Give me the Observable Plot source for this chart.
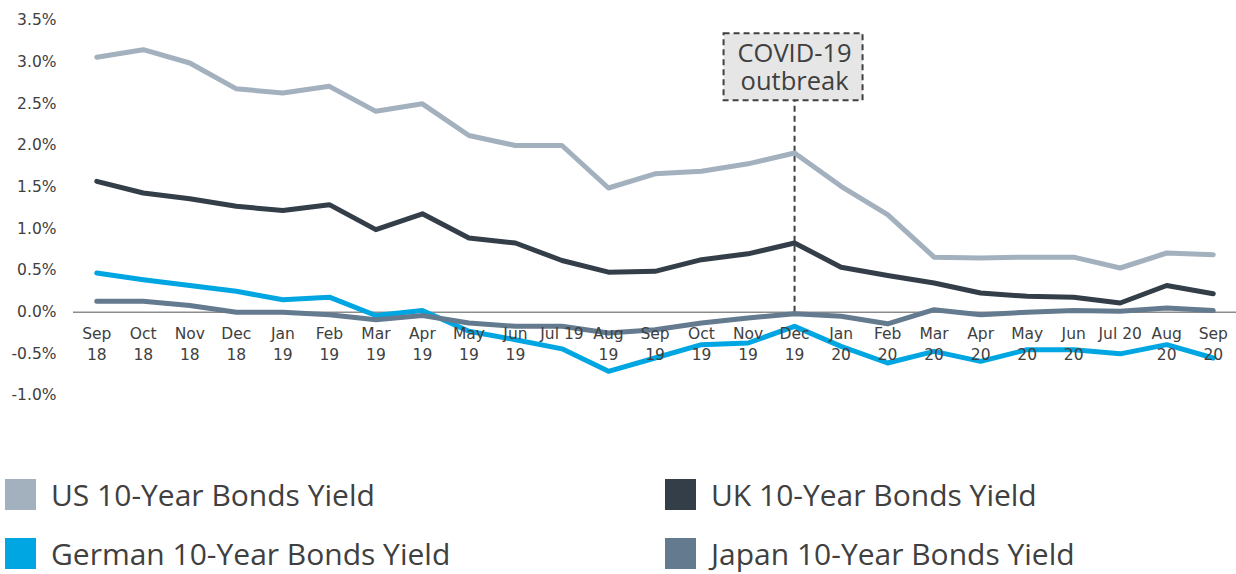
<!DOCTYPE html>
<html><head><meta charset="utf-8">
<script src="https://cdn.jsdelivr.net/npm/d3@7"></script>
<script src="https://cdn.jsdelivr.net/npm/@observablehq/plot@0.6"></script>
<style>
body{margin:0;background:#fff;}
#wrap{position:relative;width:1236px;height:574px;overflow:hidden;}
#legend{position:absolute;left:0;top:420px;width:1236px;}
.item{position:absolute;display:flex;align-items:center;font-family:"Open Sans",sans-serif;font-size:30px;color:#404040;white-space:nowrap;height:31px;}
.sw{width:31px;height:31px;margin-right:15px;flex:none;}
</style></head><body><div id="wrap"><div id="chart"></div><div id="legend"></div></div>
<script>
const months = ["Sep 18","Oct 18","Nov 18","Dec 18","Jan 19","Feb 19","Mar 19","Apr 19","May 19","Jun 19","Jul 19","Aug 19","Sep 19","Oct 19","Nov 19","Dec 19","Jan 20","Feb 20","Mar 20","Apr 20","May 20","Jun 20","Jul 20","Aug 20","Sep 20"];
const tickLabels = ["Sep\n18","Oct\n18","Nov\n18","Dec\n18","Jan\n19","Feb\n19","Mar\n19","Apr\n19","May\n19","Jun\n19","Jul 19","Aug\n19","Sep\n19","Oct\n19","Nov\n19","Dec\n19","Jan\n20","Feb\n20","Mar\n20","Apr\n20","May\n20","Jun\n20","Jul 20","Aug\n20","Sep\n20"];
const usYield = [3.06,3.15,2.99,2.68,2.63,2.71,2.41,2.50,2.12,2.00,2.00,1.49,1.66,1.69,1.78,1.91,1.51,1.17,0.66,0.65,0.66,0.66,0.53,0.71,0.69];
const ukYield = [1.57,1.43,1.36,1.27,1.22,1.29,0.99,1.18,0.89,0.83,0.62,0.48,0.49,0.63,0.70,0.83,0.54,0.44,0.35,0.23,0.19,0.18,0.11,0.32,0.22];
const germanYield = [0.47,0.39,0.32,0.25,0.15,0.18,-0.04,0.02,-0.23,-0.33,-0.44,-0.71,-0.55,-0.39,-0.37,-0.17,-0.41,-0.61,-0.47,-0.59,-0.45,-0.45,-0.50,-0.39,-0.55];
const japanYield = [0.13,0.13,0.08,0.00,0.00,-0.03,-0.09,-0.04,-0.13,-0.17,-0.17,-0.25,-0.21,-0.13,-0.07,-0.02,-0.05,-0.14,0.03,-0.03,0.00,0.02,0.01,0.05,0.02];
const seriesNames = ["US 10-Year Bonds Yield","UK 10-Year Bonds Yield","German 10-Year Bonds Yield","Japan 10-Year Bonds Yield"];
const seriesColors = ["#a3b0bd","#333e49","#00a6e2","#647a8f"];
const yTicks = [-1,-0.5,0,0.5,1,1.5,2,2.5,3,3.5];
const eventMonth = "Dec 19";
const eventLabel = "COVID-19\noutbreak";
const eventLabelY = 2.94;
const eventRuleTop = 3.0;

const allSeries = [usYield, ukYield, germanYield, japanYield];
const rows = allSeries.map((vals, s) => months.map((m, i) => ({month: m, value: vals[i], series: seriesNames[s]})));

const lineOpts = (s) => ({x: "month", y: "value", stroke: seriesColors[s], strokeWidth: 5, strokeLinecap: "round", strokeLinejoin: "round"});

const plot = Plot.plot({
  width: 1236, height: 420,
  marginLeft: 73, marginRight: 0, marginTop: 20, marginBottom: 25,
  style: {fontFamily: "DejaVu Sans", fontSize: "15.5px", color: "#404040", background: "white"},
  x: {type: "point", domain: months, padding: 0.5, round: false, axis: null},
  y: {domain: [-1, 3.5], ticks: yTicks, tickFormat: d => d.toFixed(1) + "%", tickSize: 0, tickPadding: 17, label: null},
  marks: [
    Plot.ruleY([0], {stroke: "#8c8c8c", strokeWidth: 1.5}),
    Plot.ruleX([eventMonth], {x: d => d, y1: () => 0, y2: () => eventRuleTop, stroke: "#404040", strokeWidth: 2, strokeDasharray: "6,4"}),
    Plot.line(rows[0], lineOpts(0)),
    Plot.line(rows[1], lineOpts(1)),
    Plot.line(rows[2], lineOpts(2)),
    Plot.line(rows[3], lineOpts(3)),
    Plot.text(months, {x: d => d, y: () => 0, text: (d, i) => tickLabels[i], dy: 13, lineAnchor: "top", lineHeight: 1.3, fontSize: 15.5, fill: "#404040"}),
    Plot.text([eventLabel], {x: () => eventMonth, y: () => eventLabelY, text: d => d, lineAnchor: "middle", lineHeight: 1.11, fontSize: 25.5, fontFamily: "Open Sans", fill: "#404040"})
  ]
});
document.getElementById("chart").appendChild(plot);

// annotation box behind the label, centred on the scaled position
const xs = plot.scale("x"), ys = plot.scale("y");
const cx = xs.apply(eventMonth), cy = ys.apply(eventLabelY);
const labelText = Array.from(plot.querySelectorAll("text")).find(t => t.textContent.includes("COVID"));
if (labelText) {
  const g = labelText.parentNode;
  const rect = document.createElementNS("http://www.w3.org/2000/svg", "rect");
  const w = 139, h = 67;
  rect.setAttribute("x", cx - w / 2 - 1); rect.setAttribute("y", cy - h / 2);
  rect.setAttribute("width", w); rect.setAttribute("height", h);
  rect.setAttribute("fill", "#e6e6e6"); rect.setAttribute("stroke", "#404040");
  rect.setAttribute("stroke-width", 2); rect.setAttribute("stroke-dasharray", "6,4");
  g.parentNode.insertBefore(rect, g);
}

// legend
const legend = document.getElementById("legend");
const pos = [[5, 59], [665, 59], [5, 118], [665, 118]];
seriesNames.forEach((name, i) => {
  const it = document.createElement("div");
  it.className = "item";
  it.style.left = pos[i][0] + "px";
  it.style.top = pos[i][1] + "px";
  const sw = document.createElement("span");
  sw.className = "sw"; sw.style.background = seriesColors[i];
  const tx = document.createElement("span"); tx.textContent = name;
  it.appendChild(sw); it.appendChild(tx);
  legend.appendChild(it);
});
</script></body></html>
